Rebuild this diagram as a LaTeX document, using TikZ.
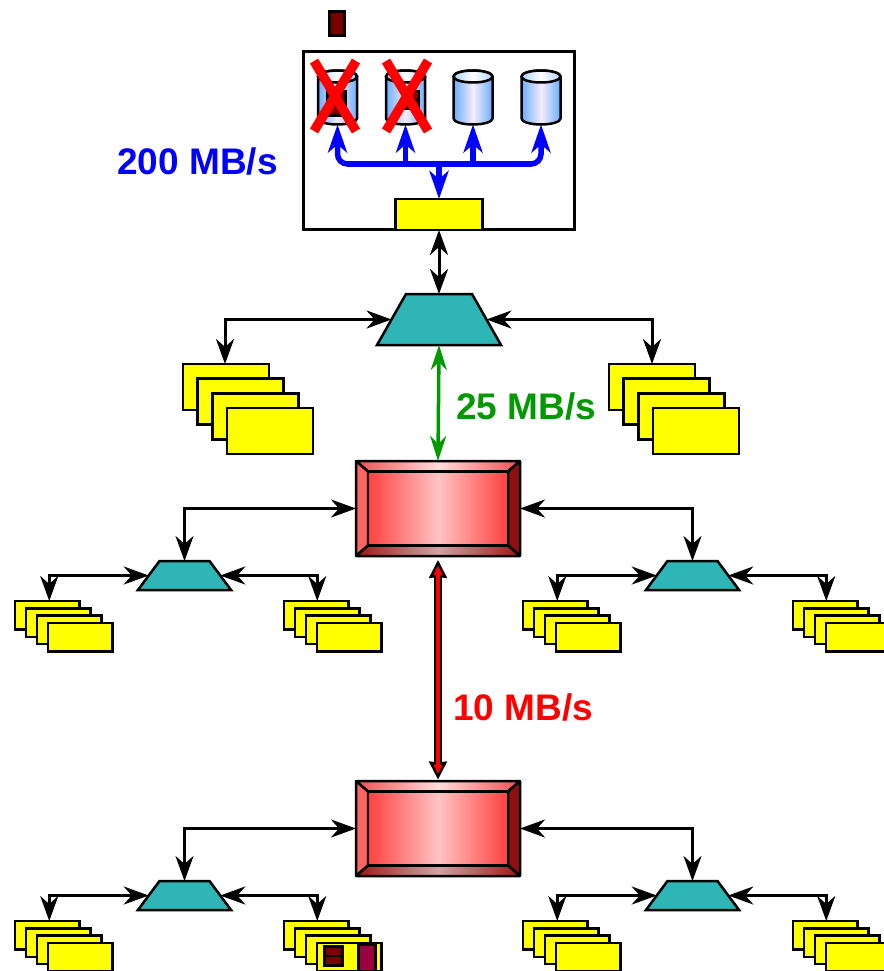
\documentclass[tikz,border=0pt]{standalone}
\usepackage{fontspec}
\setsansfont{Liberation Sans}
\usetikzlibrary{positioning, arrows.meta, shapes.geometric, shapes.misc}

\definecolor{diskblue}{HTML}{69AEFF}
\definecolor{diskpale}{HTML}{F6ECF8}
\definecolor{hubteal}{HTML}{2FB5B5}
\definecolor{cardyellow}{HTML}{FFFF00}
\definecolor{maroon}{HTML}{7A0000}
\definecolor{wine}{HTML}{990040}
\definecolor{linkgreen}{HTML}{009900}
\definecolor{busblue}{HTML}{0000FF}
\definecolor{purered}{HTML}{FF0000}
\definecolor{facered}{HTML}{FF4040}
\definecolor{facepink}{HTML}{FFC4C4}
\definecolor{topred}{HTML}{F25050}
\definecolor{toppink}{HTML}{FFDCDC}
\definecolor{leftred}{HTML}{FF6464}
\definecolor{rightred}{HTML}{8E1010}
\definecolor{lowred}{HTML}{A01414}
\definecolor{lowpink}{HTML}{D0A4A4}

\begin{document}
\begin{tikzpicture}[x=1pt, y=-1pt, line width=2.5pt, >={Stealth[length=25pt, width=18pt, inset=8pt]},
	every node/.style={inner sep=0, outer sep=0},
	card/.style={draw, fill=cardyellow, anchor=north west, minimum width=86pt, minimum height=46pt},
	smallcard/.style={draw, fill=cardyellow, anchor=north west, minimum width=64.5pt, minimum height=28.5pt},
	hub/.style={draw, fill=hubteal, trapezium, trapezium angle=60.4, inner xsep=33pt, inner ysep=25.5pt},
	smallhub/.style={draw, fill=hubteal, trapezium, trapezium angle=53.4, inner xsep=25pt, inner ysep=14.5pt},
	disknode/.style={minimum width=39pt, minimum height=54pt},
	disk/.style={draw, left color=diskblue, right color=diskblue, middle color=diskpale},
	disktop/.style={draw, left color=diskblue!55!white, right color=diskblue!55!white, middle color=white},
	chip/.style={draw, fill=maroon},
	kill/.style={cross out, draw=purered, line width=9.5pt, minimum width=42pt, minimum height=70pt},
	bus/.style={draw=busblue, line width=5.5pt, >={Stealth[length=28pt, width=19pt, inset=8pt]}},
	rate/.style={font=\sffamily\bfseries\fontsize{37}{37}\selectfont},
	link/.style={draw, line width=3pt, <->},
	face/.style={draw, line join=bevel},
	mainlink/.style={draw=black, line width=8.5pt, {Stealth[length=18pt, width=18pt, inset=1pt, fill=purered, color=black, line width=2.5pt]}-{Stealth[length=18pt, width=18pt, inset=1pt, fill=purered, color=black, line width=2.5pt]},
		postaction={draw=purered, line width=3.5pt, -, shorten >=10pt, shorten <=10pt}}]
	\useasboundingbox (0,0) rectangle (883,971);

	\node[chip, minimum width=15pt, minimum height=24pt] (token) at (337,23.5) {};

	\node[draw, fill=white, minimum width=271pt, minimum height=178pt] (server) at (439,140.5) {};
	\node[draw, fill=cardyellow, minimum width=87pt, minimum height=31pt] (ctrl) at (439,214.5) {};

	\node[disknode] (d1) at (337.5,97.5) {};
	\node[disknode] (d2) at (405.5,97.5) {};
	\node[disknode] (d3) at (473,97.5) {};
	\node[disknode] (d4) at (541,97.5) {};
	\foreach \n in {d1, d2, d3, d4} {
		\draw[disk] ([yshift=-6pt]\n.north west) -- ([yshift=6pt]\n.south west) arc[start angle=180, end angle=360, x radius=19.5pt, y radius=6pt] -- ([yshift=-6pt]\n.north east) arc[start angle=0, end angle=180, x radius=19.5pt, y radius=6pt] -- cycle;
		\draw[disktop] ([yshift=-6pt]\n.north) ellipse[x radius=19.5pt, y radius=6pt];
	}

	\node[chip, minimum width=18pt, minimum height=24pt] (c1) at (336.5,103.5) {};
	\node[chip, minimum width=16pt, minimum height=9pt] (c2) at (411,95.5) {};
	\node[chip, minimum width=16pt, minimum height=9pt, below=0pt of c2] (c3) {};

	\node[kill] (x1) at (335,96) {};
	\node[kill] (x2) at (407,96) {};

	\coordinate (busl) at (d1.south |- 0,164);
	\coordinate (busr) at (d4.south |- 0,164);
	\draw[bus] ([xshift=10pt]busl) -- ([xshift=-10pt]busr);
	\draw[bus, <-, rounded corners=10pt] (d1.south) -- (busl) -- ++(12,0);
	\draw[bus, <-, rounded corners=10pt] (d4.south) -- (busr) -- ++(-12,0);
	\draw[bus, <-] (d2.south) -- (d2.south |- busl);
	\draw[bus, <-] (d3.south) -- (d3.south |- busl);
	\draw[bus, ->] (ctrl.north |- busl) -- (ctrl.north);

	\node[rate, busblue] (r1) at (197.5,161) {200 MB/s};

	\node[hub] (hub) at (439,319.5) {};
	\draw[link] (ctrl.south) -- (hub.north);

	\foreach \n/\x in {p/183, q/609} {
		\node[card] (\n1) at (\x,364) {};
		\node[card] (\n2) at (\x+14.7,378.6) {};
		\node[card] (\n3) at (\x+29.3,393.3) {};
		\node[card] (\n4) at (\x+44,408) {};
	}
	\draw[link] (hub.west) -| ([xshift=-1pt]p1.north);
	\draw[link] (hub.east) -| ([xshift=0pt]q1.north);

	\foreach \n/\y in {a/508.5, b/828.5} {
		\node[minimum width=164pt, minimum height=95pt] (\n) at (438,\y) {};
		\node[minimum width=140pt, minimum height=74pt] (\n i) at (438,\y) {};
		\draw[face, left color=topred, right color=topred, middle color=toppink] (\n.north west) -- (\n.north east) -- (\n i.north east) -- (\n i.north west) -- cycle;
		\draw[face, fill=leftred] (\n.north west) -- (\n i.north west) -- (\n i.south west) -- (\n.south west) -- cycle;
		\draw[face, fill=rightred] (\n.north east) -- (\n.south east) -- (\n i.south east) -- (\n i.north east) -- cycle;
		\draw[face, left color=lowred, right color=lowred, middle color=lowpink] (\n.south west) -- (\n.south east) -- (\n i.south east) -- (\n i.south west) -- cycle;
		\draw[face, left color=facered, right color=facered, middle color=facepink] (\n i.north west) rectangle (\n i.south east);
		\draw (\n.north west) rectangle (\n.south east);
	}

	\draw[link, linkgreen, line width=3.5pt, >={Stealth[length=25pt, width=16pt, inset=8pt]}] (hub.south) -- (a.north);
	\node[rate, linkgreen] (r2) at (526,406) {25 MB/s};

	\draw[mainlink] ([yshift=-4pt]a.south) -- ([yshift=1.5pt]b.north);
	\node[rate, purered] (r3) at (523,707) {10 MB/s};

	\foreach \g/\y in {a/600, b/920} {
		\node[smallhub] (\g h1) at (184.5,\y-24.5) {};
		\node[smallhub] (\g h2) at (692.5,\y-24.5) {};
		\foreach \n/\x in {1/15, 2/284, 3/523, 4/793} {
			\node[smallcard] (\g\n s1) at (\x,\y+1) {};
			\node[smallcard] (\g\n s2) at (\x+11,\y+8.3) {};
			\node[smallcard] (\g\n s3) at (\x+22,\y+15.6) {};
			\node[smallcard] (\g\n s4) at (\x+33,\y+22.8) {};
		}
		\draw[link] (\g.west) -| (\g h1.north);
		\draw[link] (\g.east) -| (\g h2.north);
		\draw[link] (\g h1.west) -| ([xshift=2pt]\g1s1.north);
		\draw[link] (\g h1.east) -| ([xshift=1pt]\g2s1.north);
		\draw[link] (\g h2.west) -| ([xshift=2pt]\g3s1.north);
		\draw[link] (\g h2.east) -| ([xshift=1pt]\g4s1.north);
	}

	\node[chip, minimum width=18pt, minimum height=9.5pt] (c4) at (333.5,951) {};
	\node[chip, minimum width=18pt, minimum height=9.5pt, below=0pt of c4] (c5) {};
	\node[draw, fill=wine, minimum width=17pt, minimum height=26pt] (c6) at (367,958) {};
\end{tikzpicture}
\end{document}
